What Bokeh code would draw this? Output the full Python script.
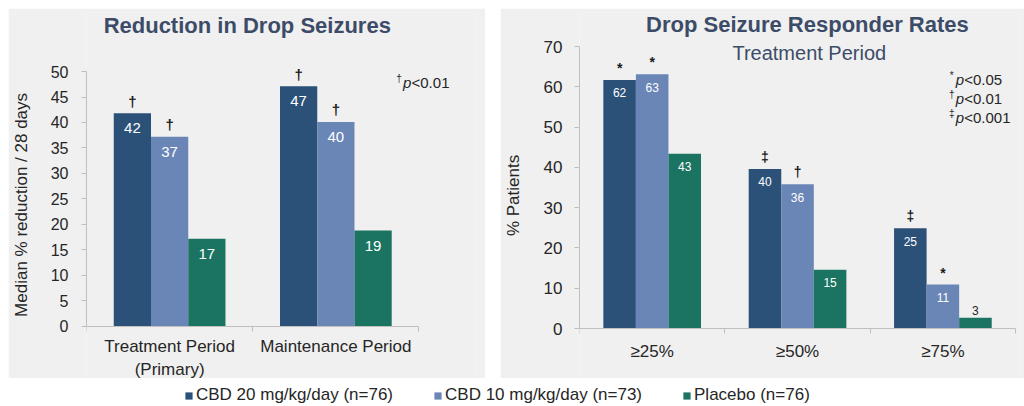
from bokeh.plotting import figure
from bokeh.models import (Range1d, LinearAxis, FixedTicker, Spacer,
                          ColumnDataSource, Label, Legend, LegendItem)
from bokeh.layouts import row, column
from bokeh.core.properties import value
from bokeh.embed import file_html
from bokeh.resources import INLINE

FONT = "Liberation Sans"
BG = "#f0f0f0"
AXIS_C = "#bfbfbf"
TEXT_C = "#262626"
TITLE_C = "#3c4c68"
SIG_C = "#1a1a1a"

# ---------------- data ----------------
series_names = ["CBD 20 mg/kg/day (n=76)", "CBD 10 mg/kg/day (n=73)", "Placebo (n=76)"]
series_colors = ["#2c5179", "#6a86b7", "#1b7361"]

left_title = "Reduction in Drop Seizures"
left_categories = ["Treatment Period\n(Primary)", "Maintenance Period"]
left_cbd20 = [41.8, 47.1]
left_cbd10 = [37.2, 40.1]
left_placebo = [17.2, 18.8]
left_sig_cbd20 = ["†", "†"]
left_sig_cbd10 = ["†", "†"]
left_sig_placebo = ["", ""]
left_ylabel = "Median  %  reduction  /  28 days"
left_yticks = [0, 5, 10, 15, 20, 25, 30, 35, 40, 45, 50]
left_notes_sym = ["†"]
left_notes_p = ["<0.01"]

right_title = "Drop Seizure Responder Rates"
right_subtitle = "Treatment Period"
right_categories = ["≥25%", "≥50%", "≥75%"]
right_cbd20 = [61.7, 39.6, 24.9]
right_cbd10 = [63.1, 35.8, 10.9]
right_placebo = [43.4, 14.6, 2.7]
right_sig_cbd20 = ["*", "‡", "‡"]
right_sig_cbd10 = ["*", "†", "*"]
right_sig_placebo = ["", "", ""]
right_ylabel = "% Patients"
right_yticks = [0, 10, 20, 30, 40, 50, 60, 70]
right_notes_sym = ["*", "†", "‡"]
right_notes_p = ["<0.05", "<0.01", "<0.001"]

BAR_W = 0.224


def make_panel(width, height, borders, x_end, y_start, y_end, categories, series, sigs,
               yticks, ylabel, tick_size, cat_size, ylabel_size, tick_standoff,
               ylabel_standoff, val_size, val_offset, sig_size, sig_offset, cat_standoff):
    n = len(categories)
    left, right, top, bottom = borders
    p = figure(width=width, height=height, x_range=Range1d(0, x_end),
               y_range=Range1d(y_start, y_end), output_backend="svg",
               toolbar_location=None, x_axis_location=None, y_axis_location=None,
               min_border_left=left, min_border_right=right, min_border_top=top,
               min_border_bottom=bottom)
    p.background_fill_color = BG
    p.border_fill_color = BG
    p.outline_line_color = None
    p.grid.visible = False

    yaxis = LinearAxis(ticker=FixedTicker(ticks=yticks), axis_label=ylabel,
                       bounds=(yticks[0], yticks[-1]))
    yaxis.axis_line_color = AXIS_C
    yaxis.major_tick_line_color = AXIS_C
    yaxis.major_tick_in = 0
    yaxis.major_tick_out = 5
    yaxis.minor_tick_line_color = None
    yaxis.major_label_text_font = FONT
    yaxis.major_label_text_font_size = tick_size
    yaxis.major_label_text_color = TEXT_C
    yaxis.major_label_standoff = tick_standoff
    yaxis.axis_label_text_font = FONT
    yaxis.axis_label_text_font_size = ylabel_size
    yaxis.axis_label_text_font_style = "normal"
    yaxis.axis_label_text_color = TEXT_C
    yaxis.axis_label_standoff = ylabel_standoff
    p.add_layout(yaxis, "left")

    # boundary ticks between categories, axis fixed at y = 0
    tick_axis = LinearAxis(ticker=FixedTicker(ticks=list(range(n + 1))), bounds=(0, n),
                           fixed_location=0)
    tick_axis.major_label_overrides = {i: "" for i in range(n + 1)}
    tick_axis.major_label_text_font_size = "0px"
    tick_axis.major_label_standoff = 0
    tick_axis.axis_line_color = AXIS_C
    tick_axis.major_tick_line_color = AXIS_C
    tick_axis.major_tick_in = 0
    tick_axis.major_tick_out = 5
    tick_axis.minor_tick_line_color = None
    p.add_layout(tick_axis, "below")

    # category labels at category centres
    centers = [i + 0.5 for i in range(n)]
    cat_axis = LinearAxis(ticker=FixedTicker(ticks=centers), fixed_location=0)
    cat_axis.major_label_overrides = {c: name for c, name in zip(centers, categories)}
    cat_axis.axis_line_color = None
    cat_axis.major_tick_line_color = None
    cat_axis.major_tick_in = 0
    cat_axis.major_tick_out = 0
    cat_axis.minor_tick_line_color = None
    cat_axis.major_label_text_font = FONT
    cat_axis.major_label_text_font_size = cat_size
    cat_axis.major_label_text_color = TEXT_C
    cat_axis.major_label_standoff = cat_standoff
    p.add_layout(cat_axis, "below")

    offsets = [-BAR_W, 0.0, BAR_W]
    for vals, sg, color, off in zip(series, sigs, series_colors, offsets):
        src = ColumnDataSource(dict(
            x=[c + off for c in centers], val=vals,
            lbl_in=[str(round(v)) if v > 6 else "" for v in vals],
            lbl_out=[str(round(v)) if v <= 6 else "" for v in vals],
            sig=sg))
        p.vbar(x="x", top="val", width=BAR_W, source=src, fill_color=color, line_color=None)
        p.text(x="x", y="val", text="lbl_in", source=src, text_align="center",
               text_baseline="middle", y_offset=val_offset, text_color="white",
               text_font=value(FONT), text_font_size=val_size)
        p.text(x="x", y="val", text="lbl_out", source=src, text_align="center",
               text_baseline="bottom", y_offset=-3, text_color=TEXT_C,
               text_font=value(FONT), text_font_size=val_size)
        p.text(x="x", y="val", text="sig", source=src, text_align="center",
               text_baseline="middle", y_offset=-sig_offset, text_color=SIG_C,
               text_font=value(FONT), text_font_size=sig_size, text_font_style="bold")
    return p


def add_notes(p, x, y, syms, pvals):
    for i, (sym, pv) in enumerate(zip(syms, pvals)):
        yo = -19 * i
        p.add_layout(Label(x=x, y=y, text=sym, x_offset=-4, y_offset=yo + 4,
                           text_align="center", text_baseline="middle", text_font=FONT,
                           text_font_size="10px", text_color=TEXT_C))
        p.add_layout(Label(x=x, y=y, text="p", y_offset=yo,
                           text_align="left", text_baseline="middle", text_font=FONT,
                           text_font_size="15px", text_font_style="italic", text_color=TEXT_C))
        p.add_layout(Label(x=x, y=y, text=pv, x_offset=8.5, y_offset=yo,
                           text_align="left", text_baseline="middle", text_font=FONT,
                           text_font_size="15px", text_color=TEXT_C))


# ---------------- left panel ----------------
# frame: x 0..2.34 (167.5 px/unit), y -10.2..61.57 (5.1 px/unit)
p1 = make_panel(477, 370, (75, 10, 4, 0), 2.34, -10.2, 61.57, left_categories,
                [left_cbd20, left_cbd10, left_placebo],
                [left_sig_cbd20, left_sig_cbd10, left_sig_placebo],
                left_yticks, left_ylabel, "16px", "17px", "17px", 13, 17,
                "15px", 15, "15px", 12, 11)
p1.add_layout(Label(x=0.967, y=59.0, text=left_title,
                    text_align="center", text_baseline="middle", text_font=FONT,
                    text_font_size="22px", text_font_style="bold", text_color=TITLE_C))
add_notes(p1, 1.904, 47.8, left_notes_sym, left_notes_p)

# ---------------- right panel ----------------
# frame: x 0..3.034 (148 px/unit), y -12.41..78.44 (4.03 px/unit)
p2 = make_panel(524, 370, (71, 4, 4, 0), 3.034, -12.41, 78.44, right_categories,
                [right_cbd20, right_cbd10, right_placebo],
                [right_sig_cbd20, right_sig_cbd10, right_sig_placebo],
                right_yticks, right_ylabel, "17px", "17px", "17px", 12, 18,
                "12px", 13, "14px", 12, 13)
p2.add_layout(Label(x=1.568, y=75.5, text=right_title,
                    text_align="center", text_baseline="middle", text_font=FONT,
                    text_font_size="22px", text_font_style="bold", text_color=TITLE_C))
p2.add_layout(Label(x=1.581, y=68.5, text=right_subtitle,
                    text_align="center", text_baseline="middle", text_font=FONT,
                    text_font_size="20px", text_color=TITLE_C))
add_notes(p2, 2.588, 61.8, right_notes_sym, right_notes_p)

# ---------------- legend strip ----------------
lg = figure(width=1024, height=28, output_backend="svg", toolbar_location=None,
            x_axis_location=None, y_axis_location=None, x_range=Range1d(0, 1),
            y_range=Range1d(0, 1), min_border=0)
lg.outline_line_color = None
lg.grid.visible = False
lg.background_fill_color = "white"
lg.border_fill_color = "white"
items = []
for name, c in zip(series_names, series_colors):
    # placeholder renderer outside the visible range, only used for the legend swatch
    r = lg.vbar(x=[-5], top=[0], width=0.1, fill_color=c, line_color=None)
    items.append(LegendItem(label=name, renderers=[r]))
legend = Legend(items=items, orientation="horizontal", location=(184, 1),
                glyph_width=9, glyph_height=9, label_standoff=3, spacing=40,
                padding=0, margin=0, border_line_color=None, background_fill_alpha=0,
                label_text_font=FONT, label_text_font_size="17px",
                label_text_color=TEXT_C, label_height=20)
lg.add_layout(legend, "center")

layout = column(Spacer(width=1024, height=8),
                row(Spacer(width=8, height=370), p1, Spacer(width=15, height=370), p2),
                lg)
open("out.html", "w").write(file_html(layout, INLINE))
